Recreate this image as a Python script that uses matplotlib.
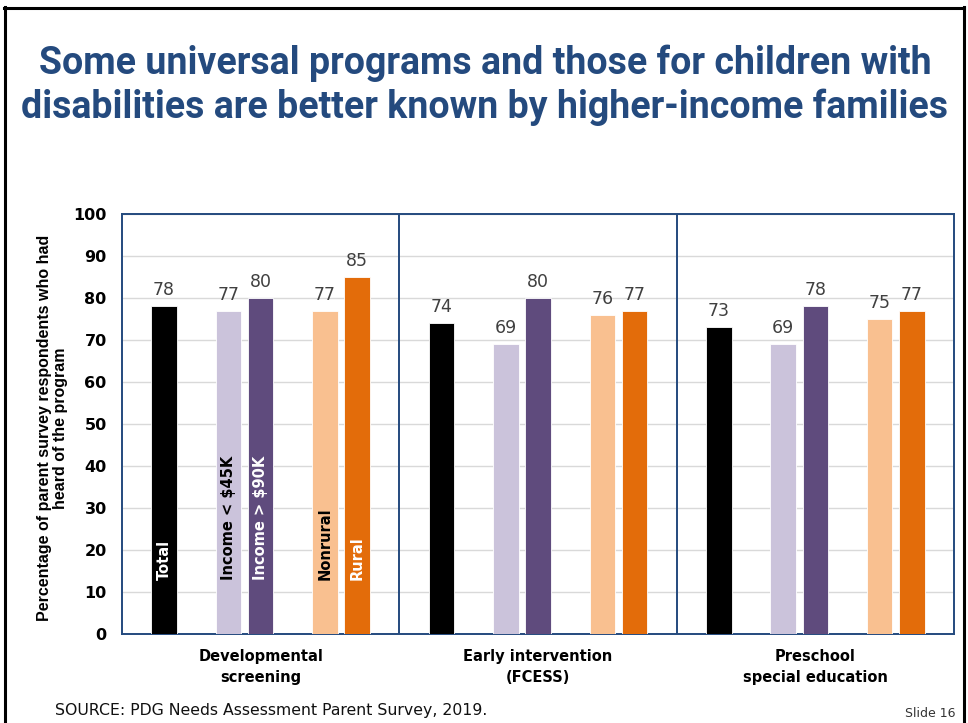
import matplotlib
matplotlib.use('Agg')
import matplotlib.pyplot as plt
from matplotlib.lines import Line2D
import numpy as np

# awareness of each program, percent of parents
programs = ['Developmental\nscreening', 'Early intervention\n(FCESS)', 'Preschool\nspecial education']
groups = ['Total', 'Income < $45K', 'Income > $90K', 'Nonrural', 'Rural']
total = [78, 74, 73]
income_low = [77, 69, 69]
income_high = [80, 80, 78]
nonrural = [77, 76, 75]
rural = [85, 77, 77]

series = [total, income_low, income_high, nonrural, rural]
colors = ['#000000', '#CBC3DB', '#5F4B7D', '#F9C090', '#E36C0A']
label_colors = ['white', 'black', 'white', 'black', 'white']
slots = [-3, -1, 0, 2, 3]   # 7 slots per group, two left empty as spacers

navy = '#244A7E'
slot_w = 0.116
bar_w = 0.092

fig = plt.figure(figsize=(9.68, 7.23), dpi=100)
ax = fig.add_axes([0.126, 0.123, 0.8595, 0.581])

x = np.arange(len(programs))
for vals, col, lc, s, name in zip(series, colors, label_colors, slots, groups):
    pos = x + s * slot_w
    bars = ax.bar(pos, vals, width=bar_w, color=col, edgecolor='white',
                  linewidth=0.6, zorder=3)
    for b, v in zip(bars, vals):
        ax.annotate(str(v), (b.get_x() + b.get_width() / 2, v),
                    xytext=(0, 5), textcoords='offset points',
                    ha='center', va='bottom', fontsize=12.5, color='#404040')
    # series name written inside the first group's bars
    ax.text(pos[0], 12.9, name, rotation=90, ha='center', va='bottom',
            fontsize=10.5, fontweight='bold', color=lc, zorder=4)

ax.set_xlim(-0.5, 2.5)
ax.set_ylim(0, 100)
ax.set_yticks(range(0, 101, 10))
ax.yaxis.grid(True, color='#D9D9D9', lw=1, zorder=0)
ax.tick_params(axis='y', length=0, pad=11, labelsize=11.5)
for t in ax.get_yticklabels():
    t.set_fontweight('bold')
ax.set_xticks(x)
ax.set_xticklabels(programs, fontsize=10.5, fontweight='bold', linespacing=1.5)
ax.tick_params(axis='x', length=0, pad=11)

for sp in ax.spines.values():
    sp.set_color(navy)
    sp.set_linewidth(1.4)
for d in (0.5, 1.5):
    ax.axvline(d, color=navy, lw=1.4, zorder=5)

fig.text(0.054, 0.408, 'Percentage of parent survey respondents who had\nheard of the program',
         rotation=90, ha='center', va='center', fontsize=11.5, fontweight='bold',
         family=['Liberation Sans', 'DejaVu Sans'],
         linespacing=1.1, multialignment='center')

fig.text(0.501, 0.882, 'Some universal programs and those for children with\n'
         'disabilities are better known by higher-income families',
         ha='center', va='center', fontsize=27, color=navy, fontweight='bold',
         family=['Roboto', 'DejaVu Sans'], linespacing=1.25)

fig.text(0.057, 0.0166, 'SOURCE: PDG Needs Assessment Parent Survey, 2019.',
         ha='left', va='center', fontsize=11.3, color='#111111')
fig.text(0.987, 0.0135, 'Slide 16', ha='right', va='center', fontsize=9, color='#333333')

# slide frame: top, left and right edges
for xs, ys in (([0.004, 0.996], [0.9895, 0.9895]),
               ([0.0052, 0.0052], [0.0, 0.991]),
               ([0.9955, 0.9955], [0.0, 0.991])):
    fig.add_artist(Line2D(xs, ys, color='black', lw=2.2, transform=fig.transFigure))

fig.savefig('out.png', dpi=100)
